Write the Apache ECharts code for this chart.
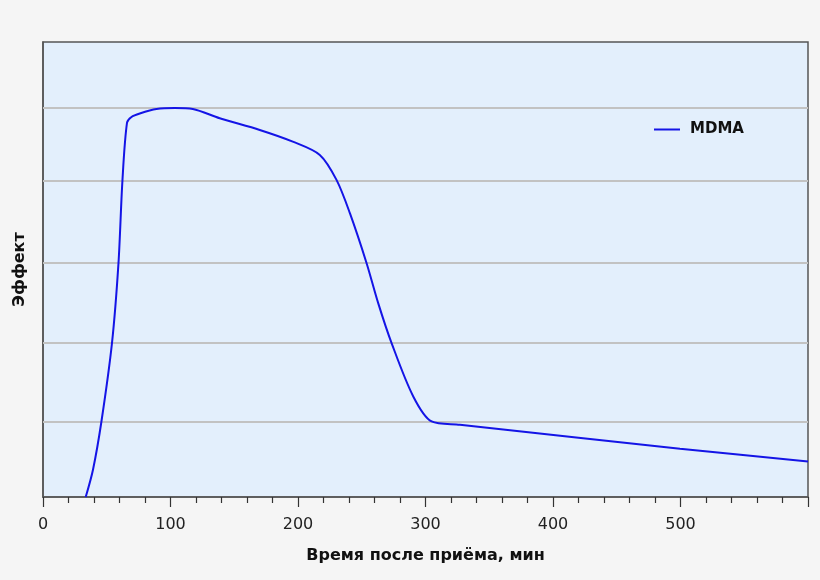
<!DOCTYPE html>
<html>
<head>
<meta charset="utf-8">
<script src="https://cdn.jsdelivr.net/npm/echarts@6/dist/echarts.min.js"></script>
<style>
html,body{margin:0;padding:0;background:#f5f5f5;}
#chart{width:820px;height:580px;}
</style>
</head>
<body>
<div id="chart"></div>
<script>
// Time after intake (minutes)
var timeMin = [33.5, 39.2, 45.8, 54.1, 59.2, 62.3, 65.9, 69.4, 75.9, 89.0, 103.4, 117.5, 138.6, 170.0, 195.9, 217.1, 230.2, 240.7, 253.8, 262.9, 273.4, 290.4, 304.8, 327.0, 420.0, 499.6, 600];
// Effect (relative units, 0..100 of plot height)
var effect = [0, 6.0, 16.54, 33.82, 51.39, 69.54, 82.27, 83.53, 84.3, 85.28, 85.5, 85.28, 83.24, 80.67, 78.1, 75.18, 69.69, 62.38, 51.39, 42.61, 33.82, 22.1, 16.6, 15.88, 13.0, 10.61, 7.82];
// Horizontal reference (grid) levels
var gridLevels = [16.54, 33.82, 51.39, 69.54, 85.5];
var xTicks = [0, 100, 200, 300, 400, 500];
var seriesName = 'MDMA';

var chart = echarts.init(document.getElementById('chart'), null, {renderer: 'canvas'});
var data = timeMin.map(function (t, i) { return [t, effect[i]]; });

chart.setOption({
  backgroundColor: '#f5f5f5',
  animation: false,
  grid: {
    left: 43, right: 12, top: 42, bottom: 83,
    outerBoundsMode: 'none', containLabel: false,
    show: true, backgroundColor: '#e3effc', borderColor: '#555', borderWidth: 1.5
  },
  legend: {
    data: [seriesName],
    left: 649, top: 117,
    itemWidth: 26, itemHeight: 10, itemGap: 13,
    icon: 'path://M0,4 L26,4 L26,6 L0,6 Z',
    textStyle: {fontFamily: 'DejaVu Sans', fontSize: 15, fontWeight: 'bold', color: '#111', padding: [0, 0, 0, 5]}
  },
  xAxis: {
    type: 'value', min: 0, max: 600, interval: 100,
    name: 'Время после приёма, мин', nameLocation: 'middle', nameGap: 51,
    nameTextStyle: {fontFamily: 'DejaVu Sans', fontSize: 16, fontWeight: 'bold', color: '#111'},
    axisLine: {show: true, lineStyle: {color: '#555', width: 1.5}},
    axisTick: {show: true, length: 10, lineStyle: {color: '#333', width: 1.2}},
    minorTick: {show: true, splitNumber: 5, length: 6, lineStyle: {color: '#333', width: 1.2}},
    splitLine: {show: false},
    axisLabel: {
      margin: 20, fontFamily: 'DejaVu Sans', fontSize: 16, color: '#222',
      formatter: function (v) { return xTicks.indexOf(v) >= 0 ? String(v) : ''; }
    }
  },
  yAxis: {
    type: 'value', min: 0, max: 100,
    name: 'Эффект', nameLocation: 'middle', nameGap: 15, nameRotate: 90,
    nameTextStyle: {fontFamily: 'DejaVu Sans', fontSize: 16, fontWeight: 'bold', color: '#111'},
    axisLine: {show: true, lineStyle: {color: '#555', width: 1.5}},
    axisTick: {show: false},
    axisLabel: {show: false},
    splitLine: {show: false}
  },
  series: [{
    name: seriesName,
    type: 'line',
    data: data,
    smooth: 0.3,
    showSymbol: false,
    clip: true,
    lineStyle: {color: '#1414e6', width: 2},
    itemStyle: {color: '#1414e6'},
    markLine: {
      silent: true, symbol: 'none', label: {show: false}, z: 1,
      lineStyle: {color: '#c2c2c2', width: 2, type: 'solid'},
      data: gridLevels.map(function (v) { return {yAxis: v}; })
    },
    z: 3
  }]
});
</script>
</body>
</html>
